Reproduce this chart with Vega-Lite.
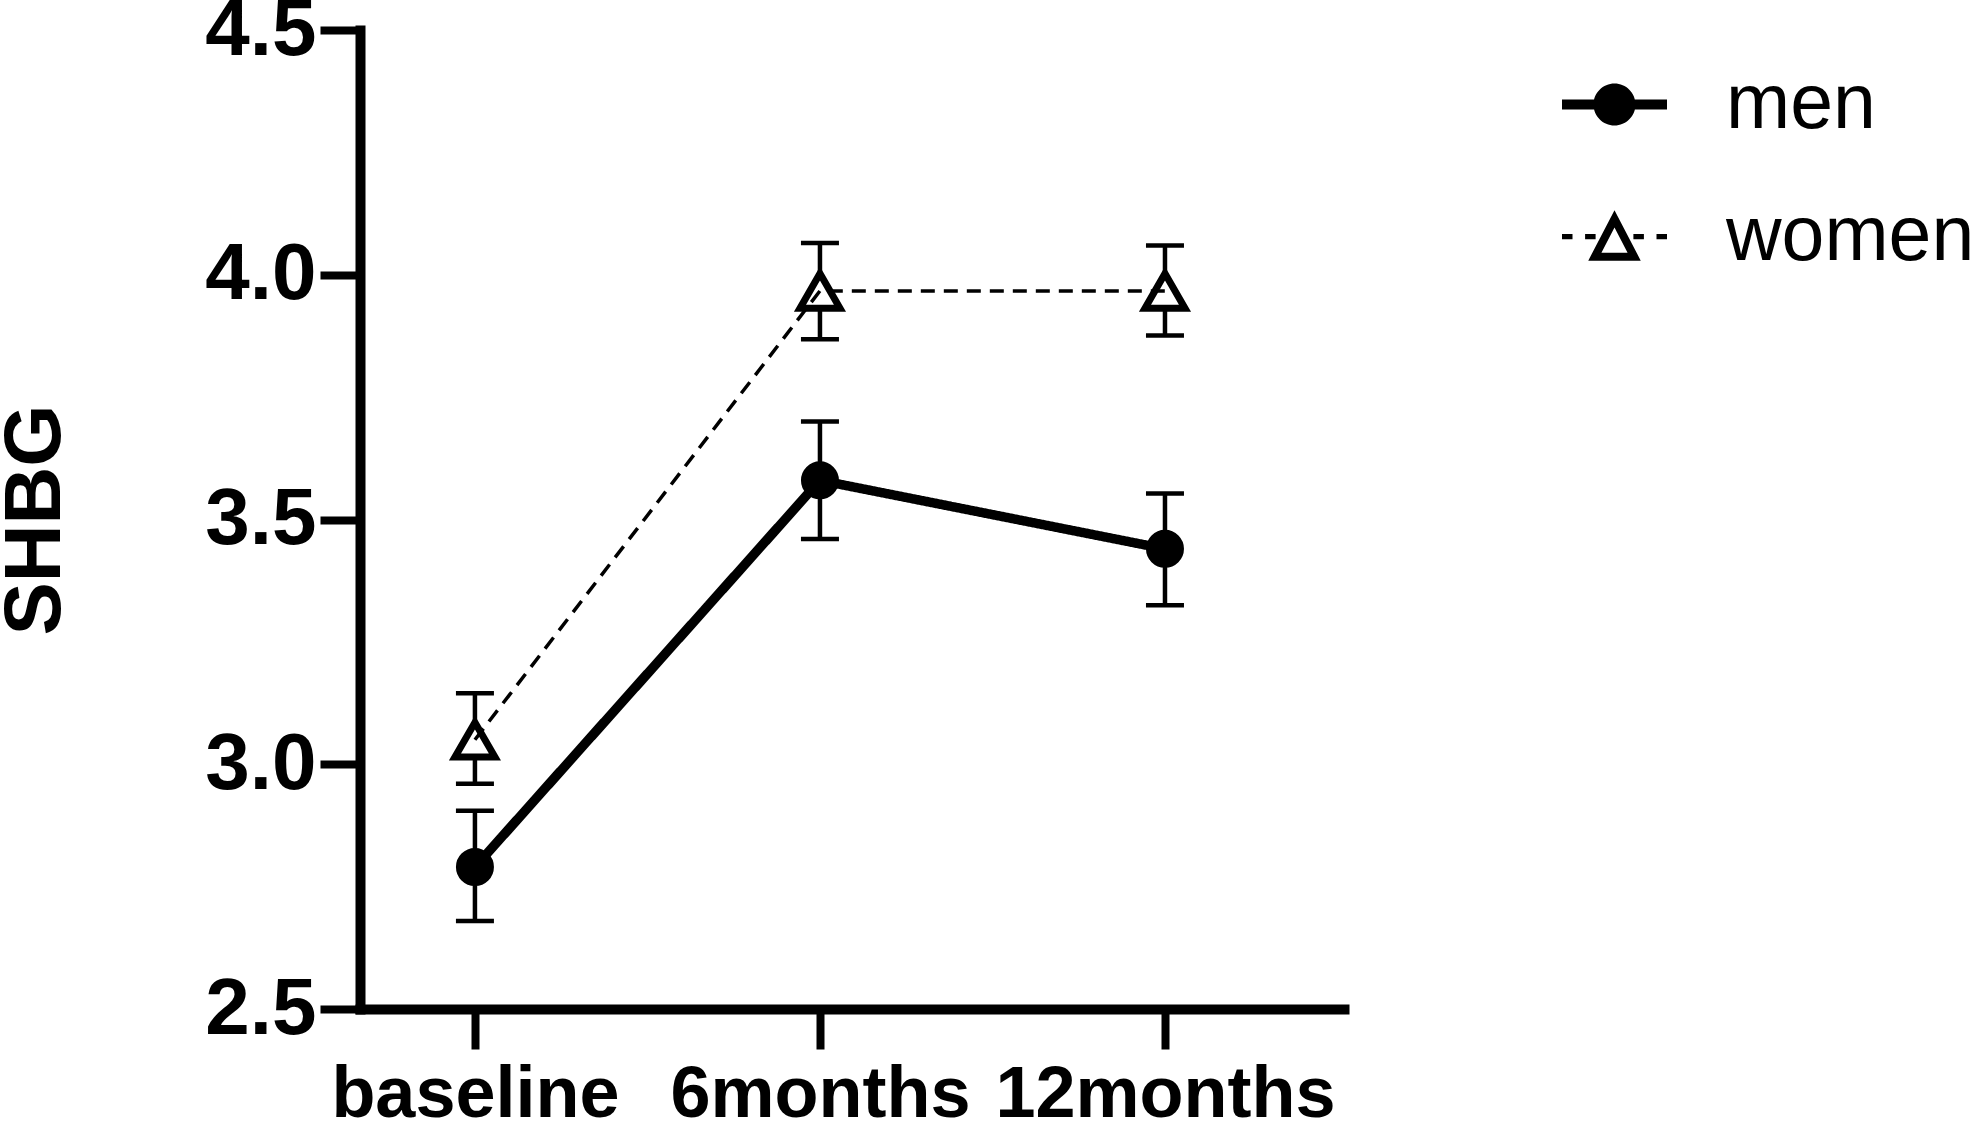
{
  "$schema": "https://vega.github.io/schema/vega-lite/v6.json",
  "width": 984,
  "height": 979,
  "autosize": {"type": "none"},
  "padding": {"left": 360, "top": 30, "right": 639, "bottom": 120},
  "background": "white",
  "config": {
    "font": "Liberation Sans",
    "view": {"stroke": null},
    "axis": {
      "domainColor": "black",
      "domainWidth": 10,
      "domainCap": "square",
      "tickColor": "black",
      "tickWidth": 8,
      "tickSize": 40,
      "labelColor": "black",
      "labelFont": "Liberation Sans",
      "labelFontSize": 72,
      "labelFontWeight": "bold",
      "labelLimit": 0,
      "grid": false
    }
  },
  "data": {
    "values": [
      {"time": "baseline", "sex": "men", "mean": 2.79, "lo": 2.68, "hi": 2.905},
      {"time": "6months", "sex": "men", "mean": 3.58, "lo": 3.46, "hi": 3.70},
      {"time": "12months", "sex": "men", "mean": 3.44, "lo": 3.325, "hi": 3.553},
      {"time": "baseline", "sex": "women", "mean": 3.05, "lo": 2.96, "hi": 3.145},
      {"time": "6months", "sex": "women", "mean": 3.967, "lo": 3.868, "hi": 4.065},
      {"time": "12months", "sex": "women", "mean": 3.967, "lo": 3.876, "hi": 4.06}
    ]
  },
  "encoding": {
    "x": {
      "field": "time",
      "type": "ordinal",
      "sort": ["baseline", "6months", "12months"],
      "scale": {"type": "point", "padding": 0.426, "align": 0.391},
      "axis": {"title": null, "labelAngle": 0, "labelPadding": 10, "labelOverlap": false, "labelBound": false, "labelLimit": 0}
    }
  },
  "resolve": {"scale": {"shape": "independent"}},
  "layer": [
    {
      "mark": {"type": "rule", "color": "black", "strokeWidth": 4.5},
      "encoding": {
        "y": {
          "field": "lo",
          "type": "quantitative",
          "scale": {"domain": [2.5, 4.5], "nice": false, "zero": false},
          "axis": {
            "values": [2.5, 3.0, 3.5, 4.0, 4.5],
            "format": ".1f",
            "labelPadding": 4,
            "labelFontSize": 80,
            "title": "SHBG",
            "titleFont": "Liberation Sans",
            "titleFontSize": 80,
            "titleFontWeight": "bold",
            "titleColor": "black",
            "titleAngle": -90,
            "titleX": -325,
            "titleY": 489.5,
            "titleAlign": "center",
            "titleBaseline": "middle"
          }
        },
        "y2": {"field": "hi"}
      }
    },
    {
      "mark": {"type": "tick", "color": "black", "opacity": 1, "size": 38, "thickness": 4.5},
      "encoding": {"y": {"field": "lo", "type": "quantitative"}}
    },
    {
      "mark": {"type": "tick", "color": "black", "opacity": 1, "size": 38, "thickness": 4.5},
      "encoding": {"y": {"field": "hi", "type": "quantitative"}}
    },
    {
      "mark": {"type": "point", "stroke": "black", "strokeWidth": 7, "opacity": 1, "filled": false},
      "encoding": {
        "y": {"field": "mean", "type": "quantitative"},
        "shape": {
          "field": "sex",
          "type": "nominal",
          "scale": {"domain": ["men", "women"], "range": ["circle", "triangle-up"]},
          "legend": null
        },
        "fill": {
          "field": "sex",
          "type": "nominal",
          "scale": {"domain": ["women", "men"], "range": ["white", "black"]},
          "legend": null
        },
        "size": {
          "field": "sex",
          "type": "nominal",
          "scale": {"domain": ["women", "men"], "range": [1600, 961]},
          "legend": null
        }
      }
    },
    {
      "mark": {"type": "line", "color": "black"},
      "encoding": {
        "y": {"field": "mean", "type": "quantitative"},
        "order": {"value": null},
        "strokeDash": {
          "field": "sex",
          "type": "nominal",
          "scale": {"domain": ["women", "men"], "range": [[14, 9], [1, 0]]},
          "legend": null
        },
        "strokeWidth": {
          "field": "sex",
          "type": "nominal",
          "scale": {"domain": ["women", "men"], "range": [3.5, 9.5]},
          "legend": null
        }
      }
    },
    {
      "mark": {"type": "point", "opacity": 0, "filled": true, "color": "black", "strokeWidth": 0},
      "encoding": {
        "y": {"field": "mean", "type": "quantitative"},
        "shape": {
          "field": "sex",
          "type": "nominal",
          "scale": {
            "domain": ["men", "women"],
            "range": [
              "M-1,-0.095H1V0.095H-1Z M-0.4,0A0.4,0.4,0,1,1,0.4,0A0.4,0.4,0,1,1,-0.4,0Z",
              "M-1,-0.05H-0.8V0.05H-1Z M-0.56,-0.05H-0.36V0.05H-0.56Z M0.36,-0.05H0.56V0.05H0.36Z M0.8,-0.05H1V0.05H0.8Z M0,-0.5L0.5,0.46L-0.5,0.46Z M0,-0.171L-0.249,0.308L0.249,0.308Z"
            ]
          },
          "legend": {
            "title": null,
            "orient": "none",
            "legendX": 1202,
            "legendY": 22,
            "padding": 0,
            "symbolSize": 11025,
            "symbolFillColor": "black",
            "symbolStrokeColor": "black",
            "symbolStrokeWidth": 0,
            "symbolOpacity": 1,
            "labelFont": "Liberation Sans",
            "labelFontSize": 77,
            "labelFontWeight": "normal",
            "labelColor": "black",
            "labelOffset": 59,
            "labelLimit": 0,
            "rowPadding": 41
          }
        }
      }
    }
  ]
}
